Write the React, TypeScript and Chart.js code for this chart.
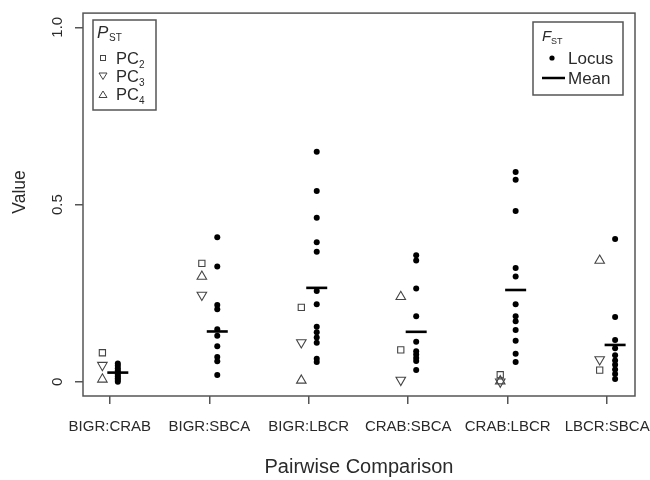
import React, { useEffect, useRef } from 'react';
import { Chart, registerables } from 'chart.js';

Chart.register(...registerables);

// ---------- data ----------
const categories = ['BIGR:CRAB', 'BIGR:SBCA', 'BIGR:LBCR', 'CRAB:SBCA', 'CRAB:LBCR', 'LBCR:SBCA'];

// P_ST values per comparison
const pc2 = [0.082, 0.334, 0.21, 0.09, 0.02, 0.033];
const pc3 = [0.047, 0.245, 0.111, 0.005, 0.0, 0.063];
const pc4 = [0.007, 0.297, 0.004, 0.24, 0.002, 0.342];

// F_ST per-locus values
const locusBigrCrab = [0.052, 0.045, 0.038, 0.032, 0.026, 0.02, 0.015, 0.01, 0.005, 0.0];
const locusBigrSbca = [0.408, 0.325, 0.217, 0.205, 0.148, 0.13, 0.1, 0.07, 0.058, 0.019];
const locusBigrLbcr = [0.649, 0.538, 0.463, 0.394, 0.367, 0.256, 0.219, 0.155, 0.14, 0.125, 0.11, 0.065, 0.056];
const locusCrabSbca = [0.357, 0.342, 0.263, 0.185, 0.113, 0.086, 0.077, 0.067, 0.059, 0.033];
const locusCrabLbcr = [0.592, 0.57, 0.482, 0.321, 0.297, 0.219, 0.185, 0.171, 0.146, 0.116, 0.079, 0.056];
const locusLbcrSbca = [0.403, 0.183, 0.118, 0.095, 0.075, 0.06, 0.048, 0.035, 0.022, 0.008];
const locusValues = [locusBigrCrab, locusBigrSbca, locusBigrLbcr, locusCrabSbca, locusCrabLbcr, locusLbcrSbca];

// F_ST means
const means = [0.026, 0.142, 0.265, 0.141, 0.259, 0.104];

const yTickValues = [0, 0.5, 1];
const yTickLabels = ['0', '0.5', '1.0'];

// ---------- styling constants ----------
const PST_OFFSET = -0.075;
const FST_OFFSET = 0.08;
const FONT = '"Liberation Sans", Arial, Helvetica, sans-serif';
const TEXT = '#2a2a2a';
const FRAME = '#555555';
const MARK = '#444444';

const framePlugin = {
  id: 'frame',
  afterDraw(chart: any) {
    const { ctx, chartArea: a, scales } = chart;
    const xs = scales.x;
    const ys = scales.y;
    ctx.save();
    // plot box
    ctx.strokeStyle = FRAME;
    ctx.lineWidth = 1.5;
    ctx.strokeRect(a.left, a.top, a.right - a.left, a.bottom - a.top);

    ctx.fillStyle = TEXT;
    // x tick labels
    ctx.font = `15px ${FONT}`;
    ctx.textAlign = 'center';
    ctx.textBaseline = 'alphabetic';
    categories.forEach((c, i) => {
      ctx.fillText(c, xs.getPixelForValue(i + 1), 431);
    });
    // y tick labels (rotated)
    yTickValues.forEach((v, i) => {
      const y = ys.getPixelForValue(v);
      ctx.save();
      ctx.translate(62, y);
      ctx.rotate(-Math.PI / 2);
      ctx.fillText(yTickLabels[i], 0, 0);
      ctx.restore();
    });
    // axis titles
    ctx.font = `20px ${FONT}`;
    ctx.fillText('Pairwise Comparison', (a.left + a.right) / 2, 473);
    ctx.save();
    ctx.translate(25, 192);
    ctx.rotate(-Math.PI / 2);
    ctx.font = `17.5px ${FONT}`;
    ctx.fillText('Value', 0, 0);
    ctx.restore();

    // ---- left legend (P_ST) ----
    ctx.fillStyle = '#ffffff';
    ctx.fillRect(93, 20, 63, 90);
    ctx.strokeStyle = FRAME;
    ctx.lineWidth = 1.5;
    ctx.strokeRect(93, 20, 63, 90);
    ctx.fillStyle = TEXT;
    ctx.textAlign = 'left';
    ctx.font = `italic 17px ${FONT}`;
    ctx.fillText('P', 97, 38);
    ctx.font = `10px ${FONT}`;
    ctx.fillText('ST', 109, 41);

    ctx.strokeStyle = MARK;
    ctx.lineWidth = 1;
    // square
    ctx.strokeRect(100.5, 55.5, 5, 5);
    // down triangle
    ctx.beginPath();
    ctx.moveTo(99, 73);
    ctx.lineTo(107, 73);
    ctx.lineTo(103, 79.5);
    ctx.closePath();
    ctx.stroke();
    // up triangle
    ctx.beginPath();
    ctx.moveTo(99, 97.5);
    ctx.lineTo(107, 97.5);
    ctx.lineTo(103, 91);
    ctx.closePath();
    ctx.stroke();

    const rows = [['PC', '2', 64], ['PC', '3', 82], ['PC', '4', 100]] as const;
    rows.forEach(([t, s, by]) => {
      ctx.font = `16.5px ${FONT}`;
      ctx.fillText(t, 116, by);
      const w = ctx.measureText(t).width;
      ctx.font = `10px ${FONT}`;
      ctx.fillText(s, 116 + w, by + 4);
    });

    // ---- right legend (F_ST) ----
    ctx.fillStyle = '#ffffff';
    ctx.fillRect(533, 22, 90, 73);
    ctx.strokeStyle = FRAME;
    ctx.lineWidth = 1.5;
    ctx.strokeRect(533, 22, 90, 73);
    ctx.fillStyle = TEXT;
    ctx.font = `italic 15px ${FONT}`;
    ctx.fillText('F', 542, 41);
    ctx.font = `9px ${FONT}`;
    ctx.fillText('ST', 551, 44);
    ctx.fillStyle = '#000';
    ctx.beginPath();
    ctx.arc(552, 58, 2.6, 0, Math.PI * 2);
    ctx.fill();
    ctx.strokeStyle = '#000';
    ctx.lineWidth = 2.5;
    ctx.beginPath();
    ctx.moveTo(542, 78);
    ctx.lineTo(565, 78);
    ctx.stroke();
    ctx.fillStyle = TEXT;
    ctx.font = `17px ${FONT}`;
    ctx.fillText('Locus', 568, 64);
    ctx.fillText('Mean', 568, 84);
    ctx.restore();
  },
};

export default function App() {
  const ref = useRef<HTMLCanvasElement>(null);

  useEffect(() => {
    const canvas = ref.current;
    if (!canvas) return;

    const pstData = (arr: number[]) => arr.map((v, i) => ({ x: i + 1 + PST_OFFSET, y: v }));
    const locusData: { x: number; y: number }[] = [];
    locusValues.forEach((vals, i) => vals.forEach((v) => locusData.push({ x: i + 1 + FST_OFFSET, y: v })));
    const meanData = means.map((v, i) => ({ x: i + 1 + FST_OFFSET, y: v }));

    const chart = new Chart(canvas, {
      type: 'scatter',
      data: {
        datasets: [
          {
            label: 'Mean',
            data: meanData,
            pointStyle: 'line',
            pointRadius: 10.5,
            borderColor: '#000',
            backgroundColor: '#000',
            pointBorderWidth: 2.6,
            borderWidth: 2.6,
          },
          {
            label: 'Locus',
            data: locusData,
            pointStyle: 'circle',
            pointRadius: 3,
            backgroundColor: '#000',
            borderColor: '#000',
            borderWidth: 0,
            pointBorderWidth: 0,
          },
          {
            label: 'PC2',
            data: pstData(pc2),
            pointStyle: 'rect',
            pointRadius: 4.4,
            backgroundColor: 'rgba(255,255,255,0)',
            borderColor: MARK,
            borderWidth: 1.1,
            pointBorderWidth: 1.1,
          },
          {
            label: 'PC3',
            data: pstData(pc3),
            pointStyle: 'triangle',
            rotation: 180,
            pointRotation: 180,
            pointRadius: 5.5,
            backgroundColor: 'rgba(255,255,255,0)',
            borderColor: MARK,
            borderWidth: 1.1,
            pointBorderWidth: 1.1,
          },
          {
            label: 'PC4',
            data: pstData(pc4),
            pointStyle: 'triangle',
            pointRadius: 5.5,
            backgroundColor: 'rgba(255,255,255,0)',
            borderColor: MARK,
            borderWidth: 1.1,
            pointBorderWidth: 1.1,
          },
        ] as any,
      },
      options: {
        animation: false,
        responsive: false,
        devicePixelRatio: 1,
        layout: { padding: { left: 0, right: 15, top: 6, bottom: 0 } },
        plugins: {
          legend: { display: false },
          tooltip: { enabled: false },
        },
        scales: {
          x: {
            type: 'linear',
            position: 'bottom',
            min: 0.73,
            max: 6.28,
            afterBuildTicks: (s: any) => {
              s.ticks = categories.map((_, i) => ({ value: i + 1 }));
            },
            afterFit: (s: any) => {
              s.height = 84;
            },
            ticks: { display: false },
            grid: { drawOnChartArea: false, drawTicks: true, tickLength: 8, color: FRAME, lineWidth: 1.5 },
            border: { display: false },
          },
          y: {
            type: 'linear',
            position: 'left',
            min: -0.04,
            max: 1.04,
            afterBuildTicks: (s: any) => {
              s.ticks = yTickValues.map((v) => ({ value: v }));
            },
            afterFit: (s: any) => {
              s.width = 83;
            },
            ticks: { display: false },
            grid: { drawOnChartArea: false, drawTicks: true, tickLength: 8, color: FRAME, lineWidth: 1.5 },
            border: { display: false },
          },
        },
      } as any,
      plugins: [framePlugin],
    });

    return () => chart.destroy();
  }, []);

  return (
    <div style={{ position: 'absolute', left: 0, top: 0, width: 650, height: 480, background: '#fff' }}>
      <canvas ref={ref} width={650} height={480} style={{ display: 'block' }} />
    </div>
  );
}
